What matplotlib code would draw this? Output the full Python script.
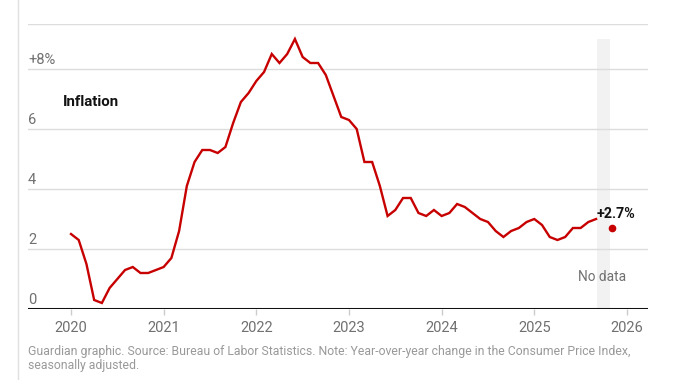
import numpy as np
from matplotlib import pyplot as plt
from matplotlib.lines import Line2D

# Monthly CPI, year-over-year change [%], Jan 2020 - Sep 2025
cpi = [2.5, 2.3, 1.5, 0.3, 0.2, 0.7, 1.0, 1.3, 1.4, 1.2, 1.2, 1.3,
       1.4, 1.7, 2.6, 4.1, 4.9, 5.3, 5.3, 5.2, 5.4, 6.2, 6.9, 7.2,
       7.6, 7.9, 8.5, 8.2, 8.5, 9.0, 8.4, 8.2, 8.2, 7.8, 7.1, 6.4,
       6.3, 6.0, 4.9, 4.9, 4.1, 3.1, 3.3, 3.7, 3.7, 3.2, 3.1, 3.3,
       3.1, 3.2, 3.5, 3.4, 3.2, 3.0, 2.9, 2.6, 2.4, 2.6, 2.7, 2.9,
       3.0, 2.8, 2.4, 2.3, 2.4, 2.7, 2.7, 2.9, 3.0]
months = 2020 + np.arange(len(cpi)) / 12.0

# October 2025 missing, November 2025 value
nodata_month = 2025 + 9 / 12.0
last_month = 2025 + 10 / 12.0
last_value = 2.7

years = [2020, 2021, 2022, 2023, 2024, 2025, 2026]
yticks = [0, 2, 4, 6, 8]
ytick_labels = ["0", "2", "4", "6", "+8%"]

red = "#c70000"
font = ["Roboto", "DejaVu Sans"]

fig = plt.figure(figsize=(6.85, 3.8), dpi=100)
ax = fig.add_axes([28 / 685, 71 / 380, 620 / 685, 285 / 380])
ax.set_xlim(2019.536, 2026.227)
ax.set_ylim(0, 9.5)

# gridlines
for v in yticks[1:]:
    ax.axhline(v, color="#dcdcdc", lw=1, zorder=1)
ax.axhline(9.5, color="#dcdcdc", lw=1, zorder=1)

# no data band
ax.fill_between([nodata_month - 0.07, nodata_month + 0.07], 0, 9.0,
                color="#f2f2f2", lw=0, zorder=0)

ax.plot(months, cpi, color=red, lw=1.7, zorder=3, solid_joinstyle="miter")
ax.plot([last_month], [last_value], "o", color=red, ms=4.5, zorder=4)

ax.axhline(0, color="#121212", lw=2.2, zorder=5)

for v, lab in zip(yticks, ytick_labels):
    ax.annotate(lab, xy=(ax.get_xlim()[0], v), xytext=(0, 1.5),
                textcoords="offset points", ha="left", va="bottom",
                fontsize=10.5, color="#707070", family=font)

ax.text(2019.914, 6.9, "Inflation", fontsize=10.8, fontweight="bold",
        color="#121212", ha="left", va="center", family=font)
ax.text(2025.67, 3.17, "+2.7%", fontsize=10.3, fontweight="bold",
        color="#121212", ha="left", va="center", family=font)
ax.text(nodata_month - 0.02, 1.07, "No data", fontsize=9.8, color="#707070",
        ha="center", va="center", family=font)

for s in ax.spines.values():
    s.set_visible(False)
ax.set_yticks([])
ax.set_xticks(years)
ax.set_xticklabels([str(y) for y in years], fontsize=10.5, color="#707070",
                   family=font)
ax.tick_params(axis="x", length=4, color="#cccccc", width=1, pad=5)

fig.text(28 / 685, 1 - 351 / 380,
         "Guardian graphic. Source: Bureau of Labor Statistics. Note: Year-over-year change in the Consumer Price Index,",
         fontsize=8.8, color="#999999", ha="left", va="center", family=font)
fig.text(28 / 685, 1 - 365 / 380, "seasonally adjusted.",
         fontsize=8.8, color="#999999", ha="left", va="center", family=font)

fig.add_artist(Line2D([17.5 / 685, 17.5 / 685], [0, 1], color="#e0e0e0",
                      lw=1, transform=fig.transFigure))

fig.savefig("out.png", dpi=100)
